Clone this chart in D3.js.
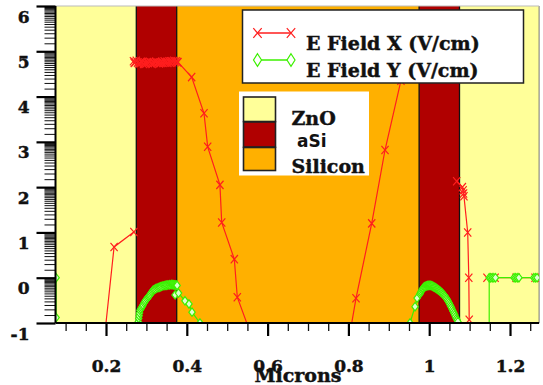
<!DOCTYPE html>
<html>
<head>
<meta charset="utf-8">
<script src="https://cdn.jsdelivr.net/npm/d3@7"></script>
<style>
  html, body { margin: 0; padding: 0; background: #fff; }
  svg { display: block; }
</style>
</head>
<body>
<svg id="chart" width="543" height="385"></svg>
<script>
// Material layers across the device (microns)
const layerNames = ["ZnO", "aSi", "Silicon", "aSi", "ZnO"];
const layerStart = [0.075, 0.275, 0.375, 0.975, 1.075];
const layerEnd   = [0.275, 0.375, 0.975, 1.075, 1.272];
const layerColor = { "ZnO": "#ffff99", "aSi": "#b00000", "Silicon": "#ffb000" };

// Axis ticks
const xTickValues = [0.2, 0.4, 0.6, 0.8, 1.0, 1.2];
const xTickLabels = ["0.2", "0.4", "0.6", "0.8", "1", "1.2"];
const yTickValues = [-1, 0, 1, 2, 3, 4, 5, 6];
const yTickLabels = ["-1", "0", "1", "2", "3", "4", "5", "6"];

// E Field X (V/cm), one polyline per region
const fieldXZnOLeft = [[0.194, -1.5], [0.220, 0.68], [0.269, 1.01]];
const fieldXASiLeft = [
  [0.268, 4.78], [0.270, 4.74], [0.272, 4.76], [0.275, 4.79], [0.278, 4.75], [0.281, 4.72],
  [0.284, 4.74], [0.287, 4.77], [0.290, 4.76], [0.293, 4.72], [0.296, 4.75], [0.299, 4.73],
  [0.302, 4.76], [0.305, 4.74], [0.308, 4.77], [0.311, 4.74], [0.314, 4.72], [0.317, 4.75],
  [0.320, 4.74], [0.323, 4.77], [0.326, 4.74], [0.329, 4.75], [0.332, 4.73], [0.335, 4.75],
  [0.338, 4.77], [0.341, 4.74], [0.344, 4.78], [0.347, 4.75], [0.350, 4.77], [0.353, 4.74],
  [0.356, 4.78], [0.359, 4.75], [0.362, 4.78], [0.365, 4.76], [0.368, 4.79], [0.371, 4.76],
  [0.374, 4.78], [0.377, 4.76]
];
const fieldXSiliconLeft = [
  [0.378, 4.76], [0.412, 4.43], [0.4426, 3.63], [0.4517, 2.89], [0.482, 2.05],
  [0.4864, 1.22], [0.5176, 0.41], [0.525, -0.43], [0.569, -1.5]
];
const fieldXSiliconRight = [
  [0.7985, -1.5], [0.8188, -0.455], [0.8577, 1.20], [0.8906, 2.82], [0.93, 4.35], [0.965, 5.7]
];
const fieldXZnORight = [
  [1.068, 2.13], [1.082, 2.00], [1.084, 1.93], [1.085, 1.86], [1.086, 1.80],
  [1.0953, 1.0], [1.098, 0.0], [1.099, -0.93]
];
const fieldXZnORightFlat = [[1.143, 0], [1.163, 0], [1.215, 0], [1.262, 0]];

// E Field Y (V/cm), one polyline per region
const fieldYZnOLeft = [[0.0765, 0], [0.0765, -0.88]];
const fieldYASiLeft = [
  [0.280, -0.97], [0.281, -0.90], [0.282, -0.84], [0.283, -0.78], [0.284, -0.72],
  [0.286, -0.69], [0.288, -0.66], [0.290, -0.63], [0.2916, -0.60], [0.294, -0.56],
  [0.296, -0.53], [0.298, -0.50], [0.3007, -0.47], [0.303, -0.445], [0.305, -0.42],
  [0.307, -0.40], [0.309, -0.38], [0.311, -0.35], [0.313, -0.32], [0.315, -0.295],
  [0.317, -0.27], [0.320, -0.26], [0.323, -0.245], [0.326, -0.23], [0.329, -0.22],
  [0.332, -0.21], [0.335, -0.20], [0.338, -0.19], [0.341, -0.18], [0.344, -0.175],
  [0.347, -0.17], [0.350, -0.165], [0.353, -0.16], [0.356, -0.157], [0.358, -0.155],
  [0.361, -0.152], [0.363, -0.15], [0.365, -0.152], [0.367, -0.155], [0.369, -0.157],
  [0.371, -0.16], [0.373, -0.163], [0.374, -0.165], [0.376, -0.17]
];
const fieldYSiliconLeft = [
  [0.371, -0.38], [0.3795, -0.34], [0.3955, -0.51], [0.4054, -0.58], [0.4129, -0.76],
  [0.4326, -1.0], [0.445, -1.2]
];
const fieldYSiliconRight = [[0.948, -1.3], [0.9525, -1.0], [0.9649, -0.64], [0.970, -0.45]];
const fieldYASiRight = [
  [0.977, -0.36], [0.9785, -0.33], [0.980, -0.30], [0.982, -0.275], [0.9835, -0.25],
  [0.985, -0.23], [0.987, -0.21], [0.989, -0.20], [0.991, -0.19], [0.993, -0.18],
  [0.995, -0.175], [0.997, -0.172], [0.999, -0.17], [1.001, -0.17], [1.003, -0.17],
  [1.005, -0.175], [1.007, -0.18], [1.009, -0.19], [1.011, -0.20], [1.013, -0.21],
  [1.015, -0.22], [1.017, -0.232], [1.019, -0.245], [1.021, -0.257], [1.023, -0.27],
  [1.025, -0.285], [1.027, -0.30], [1.029, -0.315], [1.031, -0.33], [1.033, -0.35],
  [1.035, -0.37], [1.037, -0.39], [1.039, -0.41], [1.041, -0.435], [1.043, -0.46],
  [1.045, -0.49], [1.047, -0.52], [1.049, -0.555], [1.051, -0.59], [1.053, -0.625],
  [1.055, -0.66], [1.057, -0.70], [1.059, -0.74], [1.061, -0.78], [1.063, -0.82],
  [1.065, -0.86], [1.067, -0.90], [1.069, -0.935], [1.071, -0.97]
];
const fieldYZnORight = [
  [1.1485, -1.5], [1.1485, 0], [1.152, 0], [1.156, 0], [1.160, 0], [1.164, 0],
  [1.210, 0], [1.214, 0], [1.218, 0], [1.222, 0], [1.259, 0], [1.263, 0], [1.267, 0]
];

const fieldX = [fieldXZnOLeft, fieldXASiLeft, fieldXSiliconLeft, fieldXSiliconRight, fieldXZnORight, fieldXZnORightFlat];
const fieldY = [fieldYZnOLeft, fieldYASiLeft, fieldYSiliconLeft, fieldYSiliconRight, fieldYASiRight, fieldYZnORight];

const seriesNames = ["E Field X (V/cm)", "E Field Y (V/cm)"];
const redColor = "#ff1e1e";
const greenColor = "#3cf000";

const svg = d3.select("#chart");
const plot = { left: 55.5, right: 539.1, top: 6, bottom: 323 };

const x = d3.scaleLinear().domain([0.075, 1.272]).range([plot.left, plot.right]);
const y = d3.scaleLinear().domain([-1, 6]).range([plot.bottom, plot.top]);

const serif = "'DejaVu Serif', serif";
// heavy serif labels
const heavy = sel => sel.attr("font-family", serif).attr("font-weight", "bold").attr("fill", "#111")
  .attr("stroke", "#111").attr("stroke-width", 0.45);

svg.append("defs").append("clipPath").attr("id", "plotClip")
  .append("rect")
  .attr("x", plot.left).attr("y", plot.top)
  .attr("width", plot.right - plot.left).attr("height", plot.bottom - plot.top);

// Material bands
const bands = svg.append("g");
bands.selectAll("rect").data(layerNames).join("rect")
  .attr("x", (d, i) => x(layerStart[i]))
  .attr("width", (d, i) => x(layerEnd[i]) - x(layerStart[i]))
  .attr("y", plot.top).attr("height", plot.bottom - plot.top)
  .attr("fill", d => layerColor[d]);
bands.selectAll("line").data(layerStart.slice(1)).join("line")
  .attr("x1", d => x(d)).attr("x2", d => x(d))
  .attr("y1", plot.top).attr("y2", plot.bottom)
  .attr("stroke", "#111").attr("stroke-width", 1.3);
svg.append("line")
  .attr("x1", plot.right).attr("x2", plot.right).attr("y1", plot.top).attr("y2", plot.bottom)
  .attr("stroke", "#777").attr("stroke-width", 1);
svg.append("line")
  .attr("x1", plot.left).attr("x2", plot.right).attr("y1", plot.top).attr("y2", plot.top)
  .attr("stroke", "#bbb").attr("stroke-width", 1);

// Markers
const crossPath = (s) => `M${-s},${-s * 1.15}L${s},${s * 1.15}M${-s},${s * 1.15}L${s},${-s * 1.15}`;
const diamondPath = (w, h) => `M0,${-h}L${w},0L0,${h}L${-w},0Z`;

const line = d3.line().x(d => x(d[0])).y(d => y(d[1]));
const data = svg.append("g").attr("clip-path", "url(#plotClip)");

function drawSeries(segments, color, kind) {
  const g = data.append("g");
  segments.forEach(seg => {
    g.append("path").attr("d", line(seg))
      .attr("fill", "none").attr("stroke", color).attr("stroke-width", 1.2);
    g.selectAll(null).data(seg).join("path")
      .attr("transform", d => `translate(${x(d[0])},${y(d[1])})`)
      .attr("d", kind === "x" ? crossPath(3.6) : diamondPath(3.2, 4.2))
      .attr("fill", kind === "x" ? "none" : "#dfffd0")
      .attr("stroke", color).attr("stroke-width", 1.2);
  });
}
drawSeries(fieldX, redColor, "x");
drawSeries(fieldY, greenColor, "d");

// Axes
const xAxis = d3.axisBottom(x).tickValues(xTickValues).tickSize(13)
  .tickFormat((d, i) => xTickLabels[i]);
const xMinor = d3.range(0.1, 1.26, 0.05).filter(v => !xTickValues.some(t => Math.abs(t - v) < 1e-6));
const gx = svg.append("g").attr("transform", `translate(0,${plot.bottom})`);
gx.append("g").call(d3.axisBottom(x).tickValues(xMinor).tickSize(8).tickFormat(""))
  .call(g => g.select(".domain").remove())
  .call(g => g.selectAll("line").attr("stroke", "#111").attr("stroke-width", 1.3));
gx.append("g").call(xAxis)
  .call(g => g.select(".domain").attr("d", `M${plot.left},0H${plot.right}`).attr("stroke", "#000").attr("stroke-width", 2))
  .call(g => g.selectAll(".tick line").attr("stroke", "#000").attr("stroke-width", 2.2))
  .call(g => g.selectAll("text").attr("y", 49).attr("dy", null).attr("font-size", 17).call(heavy));

// Log-style minor ticks below each major y tick
const yMinorFractions = [9.5, 9, 8.5, 8, 7.5, 7, 6.5, 6, 5.5, 5, 4.5, 4, 3.5, 3, 2.5, 2, 1.5].map(m => Math.log10(10 / m));
const yMinor = [];
yTickValues.slice(1).forEach(k => yMinorFractions.forEach(f => yMinor.push(k - f)));
const gy = svg.append("g").attr("transform", `translate(${plot.left},0)`);
gy.append("g").call(d3.axisLeft(y).tickValues(yMinor).tickSize(11).tickFormat(""))
  .call(g => g.select(".domain").remove())
  .call(g => g.selectAll("line").attr("stroke", "#111").attr("stroke-width", 1));
gy.append("g").call(d3.axisLeft(y).tickValues(yTickValues).tickSize(19).tickFormat((d, i) => yTickLabels[i]))
  .call(g => g.select(".domain").attr("d", `M0,${plot.top}V${plot.bottom}`).attr("stroke", "#000").attr("stroke-width", 2))
  .call(g => g.selectAll(".tick line").attr("stroke", "#000").attr("stroke-width", 2.2))
  .call(g => g.selectAll("text").attr("x", -26).attr("y", 16).attr("dy", null).attr("font-size", 17).call(heavy));

svg.append("text").attr("x", 298).attr("y", 382).attr("text-anchor", "middle")
  .attr("font-size", 19).call(heavy).text("Microns");

// Series legend
const leg = svg.append("g");
leg.append("rect").attr("x", 242.5).attr("y", 10).attr("width", 281).attr("height", 73)
  .attr("fill", "#fff").attr("stroke", "#222").attr("stroke-width", 1.5);
[[redColor, "x", 33], [greenColor, "d", 60]].forEach(([c, kind, ly], i) => {
  leg.append("line").attr("x1", 257.5).attr("x2", 291).attr("y1", ly).attr("y2", ly)
    .attr("stroke", c).attr("stroke-width", 1.3);
  [257.5, 291].forEach(mx => {
    leg.append("path").attr("transform", `translate(${mx},${ly})`)
      .attr("d", kind === "x" ? crossPath(4.2) : diamondPath(4, 6.3))
      .attr("fill", kind === "x" ? "none" : "#fff").attr("stroke", c).attr("stroke-width", 1.2);
  });
  leg.append("text").attr("x", 306).attr("y", ly + 17).attr("font-size", 19).call(heavy)
    .text(seriesNames[i]);
});

// Material legend
const mat = svg.append("g");
mat.append("rect").attr("x", 239).attr("y", 91.5).attr("width", 130).attr("height", 84).attr("fill", "#fff");
const matNames = ["ZnO", "aSi", "Silicon"];
const swatchTop = [97, 122, 147.5];
const swatchH = [24.5, 25, 23];
mat.selectAll("rect.sw").data(matNames).join("rect").attr("class", "sw")
  .attr("x", 243.5).attr("width", 32)
  .attr("y", (d, i) => swatchTop[i]).attr("height", (d, i) => swatchH[i])
  .attr("fill", d => layerColor[d]).attr("stroke", "#222").attr("stroke-width", 1.6);
mat.append("text").attr("x", 291.5).attr("y", 125).attr("font-size", 19).call(heavy).text("ZnO");
mat.append("text").attr("x", 297).attr("y", 147).attr("font-family", "'DejaVu Sans', sans-serif")
  .attr("font-weight", "bold").attr("font-size", 17).attr("fill", "#111").text("aSi");
mat.append("text").attr("x", 291.5).attr("y", 173).attr("font-size", 19).call(heavy).text("Silicon");
</script>
</body>
</html>
